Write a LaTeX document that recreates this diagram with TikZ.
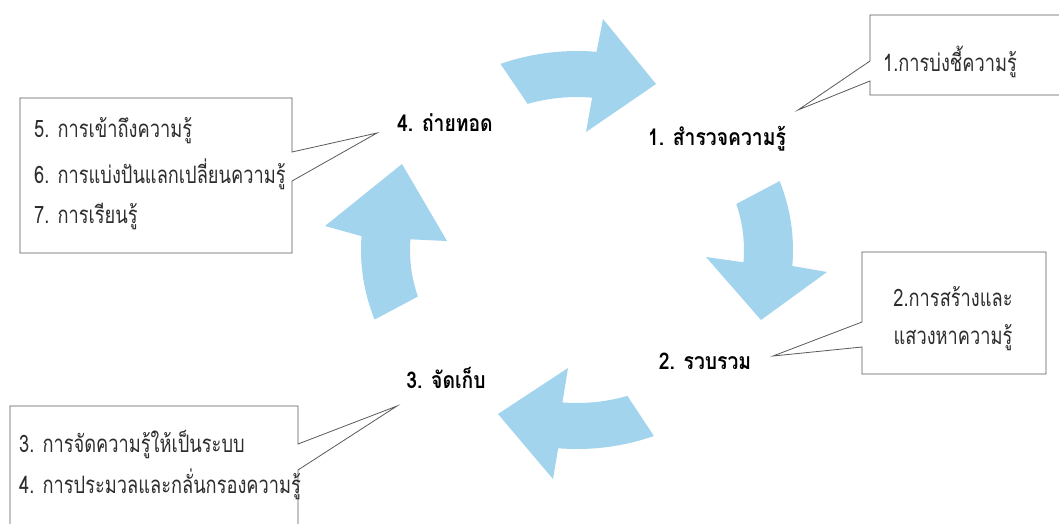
\documentclass[tikz,border=0pt]{standalone}
\usepackage{fontspec}
\usetikzlibrary{calc}
\newfontfamily\thaibox[Script=Thai,FakeStretch=0.76]{Loma}
\newfontfamily\thailab[Script=Thai,FakeStretch=0.84]{Loma}
\definecolor{arrowblue}{RGB}{162,212,237}
\definecolor{boxline}{RGB}{90,90,90}
\definecolor{boxtext}{RGB}{45,45,45}
\tikzset{
  bluearrow/.style={fill=arrowblue,draw=none},
  callout/.style={fill=white,draw=boxline,line width=0.8pt,line join=miter},
  steplabel/.style={font=\thailab\bfseries\fontsize{23}{26}\selectfont,text=black,inner sep=0pt},
  boxtxt/.style={font=\thaibox\fontsize{24}{27}\selectfont,text=boxtext,inner sep=0pt},
  outerarc/.style={x radius=216pt,y radius=199pt},
  innerarc/.style={x radius=167pt,y radius=153pt},
}
\begin{document}
\begin{tikzpicture}[x=1pt,y=-1pt]
\useasboundingbox (0,0) rectangle (1059,523);
\clip (0,0) rectangle (1059,523);
\fill[white] (0,0) rectangle (1059,523);
\coordinate (C) at (577,250);

% step labels
\node[steplabel] (s1) at (717,139) {1. สำรวจความรู้};
\node[steplabel] (s2) at (705,361) {2. รวบรวม};
\node[steplabel] (s3) at (446,378) {3. จัดเก็บ};
\node[steplabel] (s4) at (445,123) {4. ถ่ายทอด};

% callout tips
\coordinate (t1) at (798,110);
\coordinate (t2) at (773,356);
\coordinate (t3) at (397,406);
\coordinate (t4) at (377,133);

% arrows (circular cycle arrows around C)
\path[bluearrow] ($(C)+(110.75:216pt and 199pt)$) arc[start angle=110.75,end angle=84.8,outerarc]
  -- (603,19) -- (656,84) -- (586,132)
  -- ($(C)+(84.8:167pt and 153pt)$) arc[start angle=84.8,end angle=107.2,innerarc] -- cycle;
\path[bluearrow] ($(C)+(20.26:216pt and 199pt)$) arc[start angle=20.26,end angle=-4.6,outerarc]
  -- (827,272) -- (761,320) -- (706,257)
  -- ($(C)+(-4.6:167pt and 153pt)$) arc[start angle=-4.6,end angle=17.5,innerarc] -- cycle;
\path[bluearrow] ($(C)+(-69.15:216pt and 199pt)$) arc[start angle=-69.15,end angle=-95,outerarc]
  -- (553,479) -- (498,414) -- (568,368)
  -- ($(C)+(-95:167pt and 153pt)$) arc[start angle=-95,end angle=-72.45,innerarc] -- cycle;
\path[bluearrow] ($(C)+(200.45:216pt and 199pt)$) arc[start angle=200.45,end angle=176,outerarc]
  -- (325,226) -- (402,164) -- (447,241)
  -- ($(C)+(176:167pt and 153pt)$) arc[start angle=176,end angle=197.7,innerarc] -- cycle;

% callout boxes
\draw[callout] (870,15) -- (1070,15) -- (1070,95) -- (870,95) -- (870,81) -- (t1) -- (870,61) -- cycle;
\draw[callout] (862,252) -- (1046,252) -- (1046,374) -- (862,374) -- (862,347) -- (t2) -- (862,322) -- cycle;
\draw[callout] (20,98) -- (292,98) -- (292,152) -- (t4) -- (292,181) -- (292,253) -- (20,253) -- cycle;
\draw[callout] (10,406) -- (298,406) -- (298,444) -- (t3) -- (298,470) -- (298,540) -- (10,540) -- cycle;

% box texts
\node[boxtxt] (a1) at (950,62) {1.การบ่งชี้ความรู้};
\node[boxtxt] (b1) at (953,297) {2.การสร้างและ};
\node[boxtxt] (b2) at (953,338) {แสวงหาความรู้};
\node[boxtxt,anchor=west] (c1) at (34,131) {5. การเข้าถึงความรู้};
\node[boxtxt,anchor=west] (c2) at (34,174) {6. การแบ่งปันแลกเปลี่ยนความรู้};
\node[boxtxt,anchor=west] (c3) at (34,216) {7. การเรียนรู้};
\node[boxtxt,anchor=west] (d1) at (19,445) {3. การจัดความรู้ให้เป็นระบบ};
\node[boxtxt,anchor=west] (d2) at (19,484) {4. การประมวลและกลั่นกรองความรู้};
\end{tikzpicture}
\end{document}
